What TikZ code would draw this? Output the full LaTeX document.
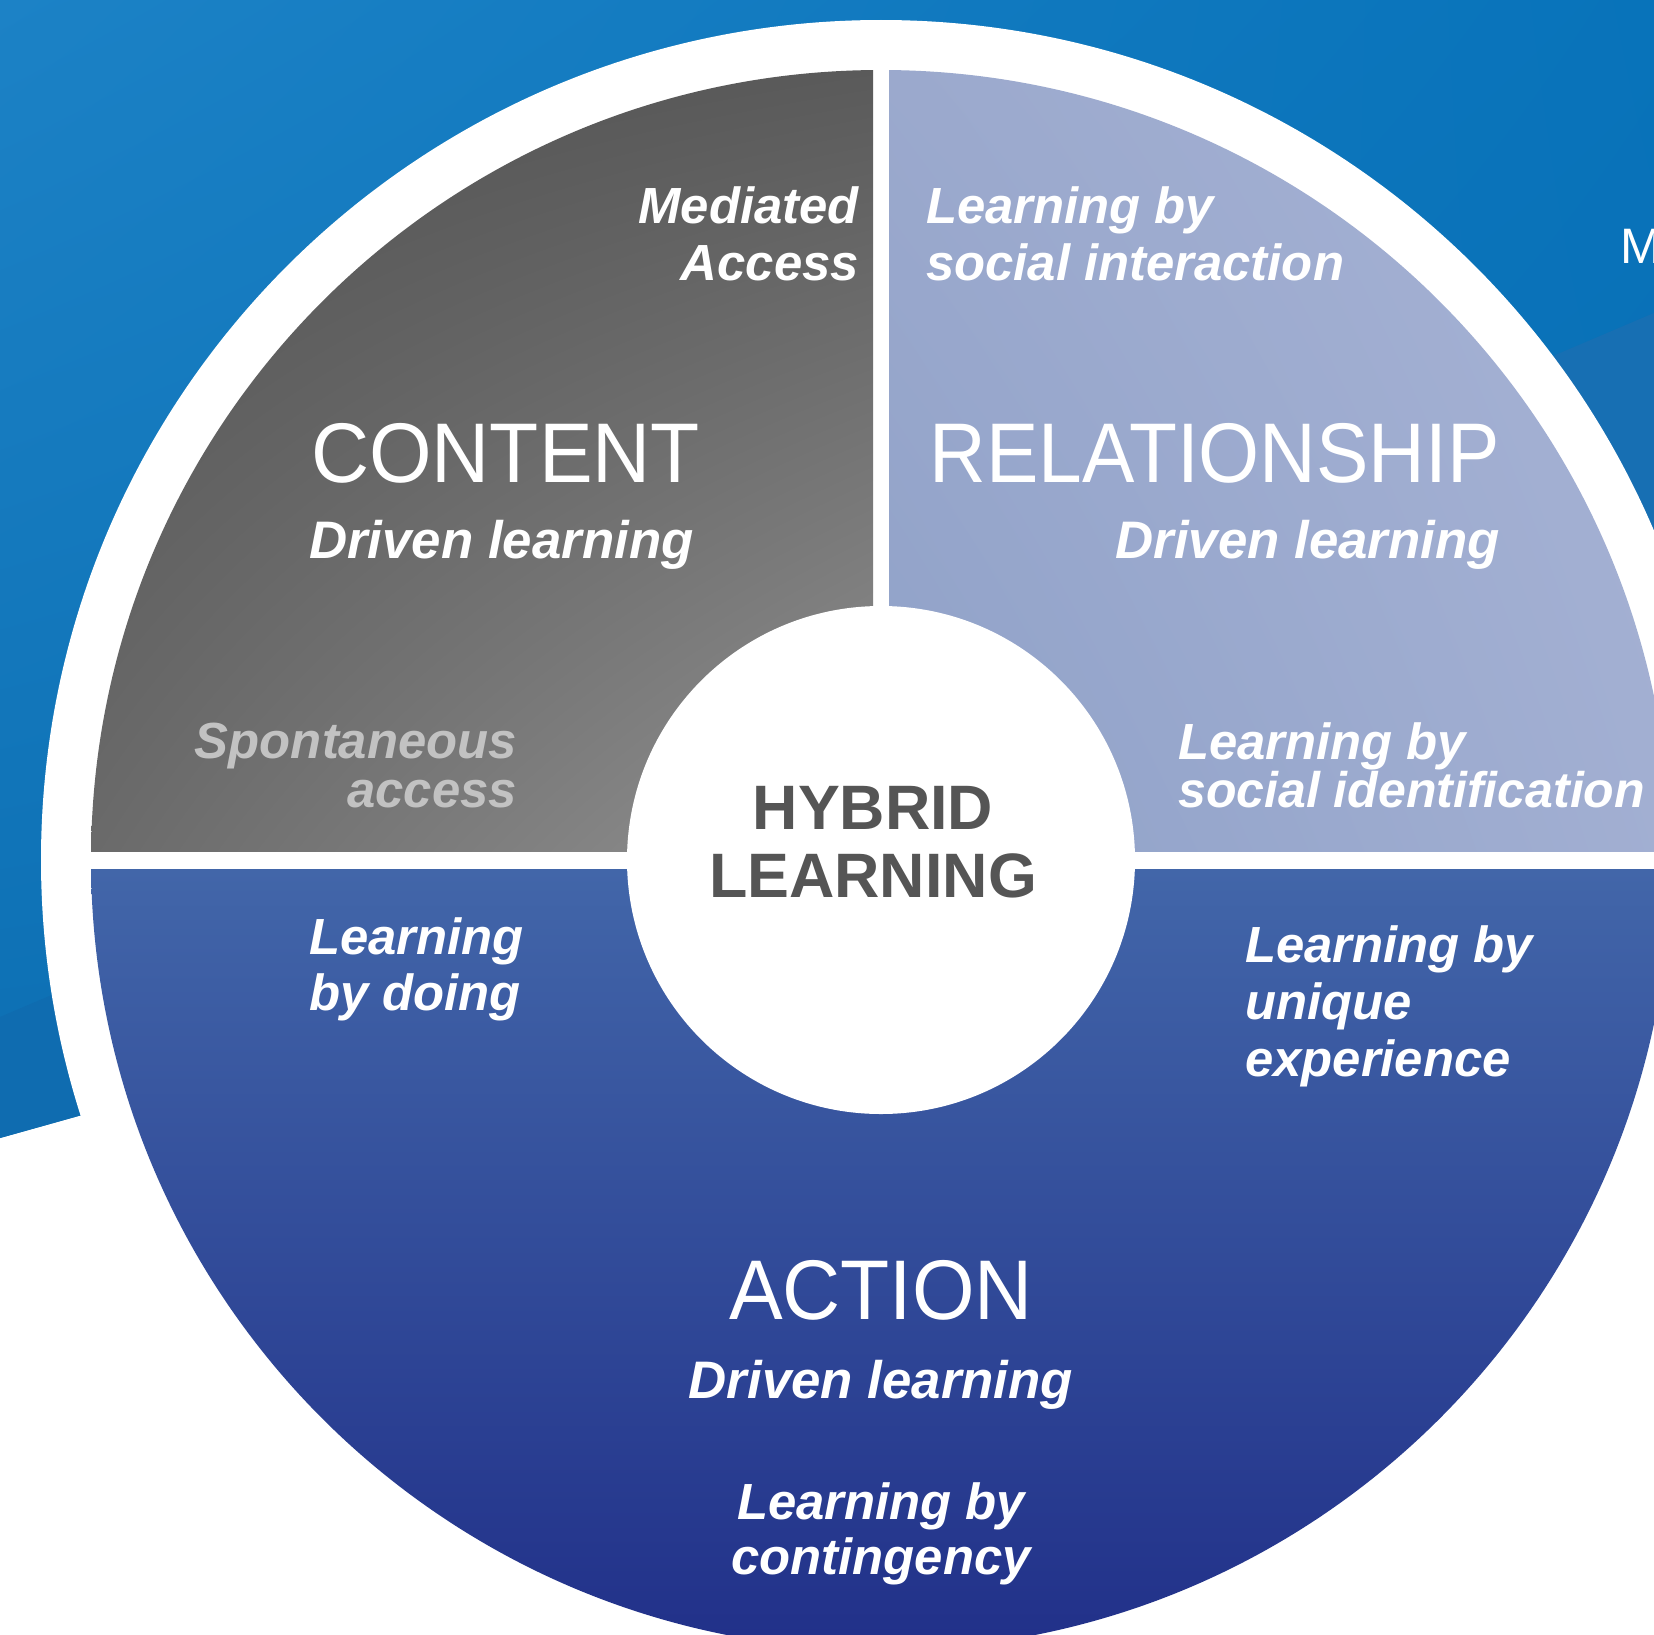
\documentclass[tikz,border=0pt]{standalone}
\usepackage{fontspec}
\usepackage{graphicx}
\usetikzlibrary{shadings}
\setmainfont{Liberation Sans}
\newfontfamily\thinfont[FakeStretch=0.95]{Liberation Sans}
\newfontfamily\thinnerfont[FakeStretch=0.927]{Liberation Sans}
\definecolor{hubgray}{HTML}{555555}
\definecolor{spgray}{HTML}{C2C2C2}
\definecolor{bgA}{HTML}{1C82C6}
\definecolor{bgB}{HTML}{0873BA}
\definecolor{bgC}{HTML}{0C6FB3}
\definecolor{bgD}{HTML}{0B6DB3}
\definecolor{bandL}{HTML}{0F6CB0}
\definecolor{bandR}{HTML}{176FB3}
\definecolor{grA}{HTML}{525252}
\definecolor{grB}{HTML}{5A5A5A}
\definecolor{grC}{HTML}{6A6A6A}
\definecolor{grD}{HTML}{929292}
\definecolor{lbA}{HTML}{9BA9CD}
\definecolor{lbB}{HTML}{A7B3D5}
\definecolor{lbC}{HTML}{8FA1C8}
\definecolor{lbD}{HTML}{A2AFD2}
\definecolor{acTop}{HTML}{4266A9}
\definecolor{acBot}{HTML}{213089}
\begin{document}
\begin{tikzpicture}[x=1bp,y=-1bp,
  lab/.style={text=white, inner sep=0pt, font=\fontsize{51}{58}\selectfont\bfseries\itshape},
  drv/.style={text=white, inner sep=0pt, font=\fontsize{53}{60}\selectfont\bfseries\itshape},
  big/.style={text=white, inner sep=0pt, font=\thinfont\fontsize{85}{90}\selectfont},
  hub/.style={text=hubgray, inner sep=0pt, font=\fontsize{63}{68}\selectfont\bfseries}]
\useasboundingbox (0,0) rectangle (1654,1635);
\fill[white] (0,0) rectangle (1654,1635);
% blue background
\shade[upper left=bgA, upper right=bgB, lower left=bgC, lower right=bgD]
  (0,0) -- (1654,0) -- (1654,674) -- (0,1138) -- cycle;
\shade[left color=bandL, right color=bandR]
  (0,1017) -- (1654,313) -- (1654,674) -- (0,1138) -- cycle;
% white disc
\fill[white] (881,860) circle (840);
% pie
\begin{scope}
  \clip (881,860) circle (790);
  \shade[upper left=grA, upper right=grB, lower left=grC, lower right=grD]
    (90,68) rectangle (873,851);
  \shade[upper left=lbA, upper right=lbB, lower left=lbC, lower right=lbD]
    (889,68) rectangle (1672,851);
  \shade[top color=acTop, bottom color=acBot]
    (90,869) rectangle (1672,1650);
\end{scope}
\fill[white] (881,860) circle (254);
% texts
\node[lab, anchor=base east] (med1) at (859,223) {Mediated};
\node[lab, anchor=base east] (med2) at (859,280) {Access};
\node[lab, anchor=base west] (soc1) at (926,223) {Learning by};
\node[lab, anchor=base west] (soc2) at (926,280) {social interaction};
\node[big, anchor=base west] (content) at (311,482) {CONTENT};
\node[drv, anchor=base west] (cdrv) at (309,558) {Driven learning};
\node[big, anchor=base east, font=\thinnerfont\fontsize{85}{90}\selectfont] (rel) at (1500,482) {RELATIONSHIP};
\node[drv, anchor=base east] (rdrv) at (1500,558) {Driven learning};
\node[lab, anchor=base east, text=spgray] (sp1) at (517,758) {Spontaneous};
\node[lab, anchor=base east, text=spgray] (sp2) at (517,807) {access};
\node[lab, anchor=base west] (sid1) at (1178,759) {Learning by};
\node[lab, anchor=base west, font=\fontsize{50.2}{58}\selectfont\bfseries\itshape] (sid2) at (1178,807) {social identification};
\node[hub, anchor=base] (hyb1) at (873,829) {HYBRID};
\node[hub, anchor=base] (hyb2) at (873,897) {LEARNING};
\node[lab, anchor=base west] (do1) at (309,954) {Learning};
\node[lab, anchor=base west] (do2) at (309,1010) {by doing};
\node[lab, anchor=base west] (uq1) at (1245,962) {Learning by};
\node[lab, anchor=base west] (uq2) at (1245,1019) {unique};
\node[lab, anchor=base west] (uq3) at (1245,1076) {experience};
\node[big, anchor=base] (action) at (881,1319) {ACTION};
\node[drv, anchor=base] (adrv) at (881,1398) {Driven learning};
\node[lab, anchor=base] (ct1) at (881,1519) {Learning by};
\node[lab, anchor=base] (ct2) at (881,1574) {contingency};
\node[text=white, inner sep=0pt, anchor=base west, font=\fontsize{50}{56}\selectfont] (mtext) at (1620,263) {M};
\end{tikzpicture}
\end{document}
